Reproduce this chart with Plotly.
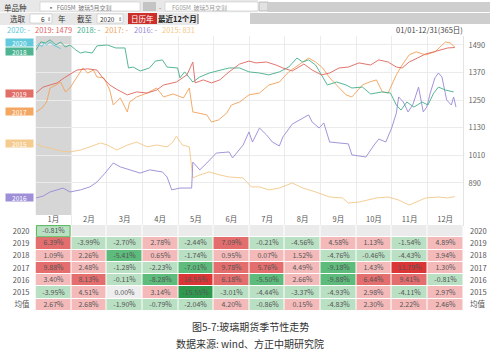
import plotly.graph_objects as go

W, H = 500, 353
FONT = "Noto Sans CJK SC"

def px(x):
    return x / W

def py(y):
    return 1 - y / H

# ---------------- data ----------------
years = ["2020", "2019", "2018", "2017", "2016", "2015"]
colors = {"2020": "#5bc8dc", "2019": "#e0675f", "2018": "#45b08c",
          "2017": "#f3a35b", "2016": "#9a8ad6", "2015": "#f5c98a"}

d2020 = [1, 3, 6, 8, 10, 13, 15, 17, 20, 22]
p2020 = [1486, 1494, 1483, 1499, 1490, 1503, 1492, 1486, 1479, 1474]

d2019 = [1, 7, 13, 19, 25, 30, 36, 45, 53, 58, 64, 71, 79, 87, 96, 104, 110, 121, 130, 135,
         137, 144, 151, 158, 166, 175, 183, 189, 198, 206, 212, 220, 230, 237, 245, 252, 260,
         268, 277, 287, 294, 302, 309, 314, 320, 327, 334, 341, 348, 353, 359]
p2019 = [1281, 1307, 1316, 1325, 1347, 1364, 1381, 1386, 1381, 1347, 1316, 1294, 1273, 1286,
         1281, 1294, 1316, 1329, 1360, 1416, 1325, 1338, 1325, 1338, 1373, 1407, 1420, 1412,
         1416, 1403, 1390, 1377, 1407, 1381, 1360, 1368, 1390, 1394, 1412, 1403, 1425, 1416,
         1394, 1390, 1416, 1433, 1451, 1460, 1468, 1477, 1479]

d2018 = [1, 5, 9, 13, 18, 22, 26, 30, 35, 39, 43, 49, 53, 62, 69, 77, 80, 84, 90, 98, 103,
         109, 113, 122, 124, 128, 135, 141, 149, 158, 166, 175, 183, 192, 200, 209, 217, 224,
         229, 234, 240, 245, 250, 258, 266, 271, 280, 287, 297, 304, 309, 313, 318, 324, 331,
         336, 341, 345, 351, 358]
p2018 = [1468, 1503, 1499, 1512, 1490, 1503, 1481, 1490, 1468, 1455, 1460, 1455, 1486, 1490,
         1477, 1477, 1390, 1394, 1377, 1390, 1420, 1425, 1394, 1390, 1347, 1373, 1329, 1351,
         1368, 1381, 1390, 1390, 1373, 1368, 1360, 1373, 1394, 1433, 1416, 1425, 1403, 1360,
         1316, 1329, 1316, 1303, 1307, 1277, 1286, 1281, 1229, 1207, 1242, 1220, 1242, 1229,
         1281, 1307, 1294, 1286]

d2017 = [1, 6, 10, 13, 18, 22, 26, 30, 36, 41, 45, 50, 53, 59, 64, 67, 73, 79, 81, 87, 96,
         104, 110, 118, 127, 132, 135, 141, 147, 151, 157, 164, 168, 175, 183, 192, 200, 209,
         217, 229, 234, 240, 246, 252, 258, 266, 271, 280, 286, 292, 297, 302, 309, 314, 320,
         326, 334, 342, 351, 355, 359]
p2017 = [1199, 1216, 1242, 1303, 1316, 1329, 1286, 1303, 1351, 1390, 1368, 1381, 1351, 1347,
         1294, 1229, 1260, 1199, 1242, 1264, 1281, 1303, 1264, 1277, 1260, 1303, 1199, 1194,
         1186, 1155, 1164, 1194, 1229, 1242, 1273, 1281, 1316, 1329, 1373, 1416, 1433, 1416,
         1390, 1347, 1316, 1273, 1264, 1316, 1329, 1338, 1286, 1281, 1360, 1403, 1447, 1460,
         1447, 1460, 1503, 1499, 1481]

d2016 = [1, 7, 13, 19, 24, 30, 39, 47, 53, 60, 67, 73, 81, 90, 98, 109, 113, 117, 124, 134,
         135, 141, 147, 155, 166, 169, 178, 183, 186, 192, 198, 203, 209, 212, 220, 229, 234,
         237, 243, 247, 252, 260, 268, 271, 283, 290, 294, 300, 305, 309, 311, 315, 319, 323,
         328, 332, 335, 338, 342, 345, 348, 352, 356, 358, 360]
p2016 = [825, 833, 851, 860, 868, 851, 860, 873, 894, 933, 977, 960, 947, 933, 947, 938, 916,
         860, 868, 868, 981, 947, 977, 1020, 1025, 999, 1055, 1112, 1068, 1129, 1099, 1068,
         1051, 1090, 1146, 1173, 1186, 1155, 1129, 1151, 1068, 1064, 1060, 1012, 1003, 1055,
         1081, 1068, 1129, 1194, 1264, 1242, 1199, 1229, 1307, 1199, 1220, 1281, 1347, 1368,
         1351, 1251, 1229, 1264, 1220]

d2015 = [1, 7, 13, 22, 30, 39, 47, 56, 62, 70, 79, 87, 96, 104, 113, 118, 121, 126, 132, 135,
         141, 149, 158, 166, 178, 185, 192, 200, 209, 220, 229, 240, 252, 263, 268, 277, 292,
         302, 311, 320, 326, 334, 345, 353, 359]
p2015 = [1060, 1047, 1042, 1029, 1025, 1033, 1047, 1064, 1055, 1033, 1055, 1068, 1047, 1055,
         1047, 1068, 1094, 1055, 1047, 912, 925, 938, 925, 916, 912, 873, 873, 860, 868, 890,
         868, 851, 829, 825, 803, 807, 825, 829, 816, 794, 807, 825, 829, 825, 831]

series = {"2020": (d2020, p2020), "2019": (d2019, p2019), "2018": (d2018, p2018),
          "2017": (d2017, p2017), "2016": (d2016, p2016), "2015": (d2015, p2015)}

legend_labels = ["2020: -", "2019: 1479", "2018: -", "2017: -", "2016: -", "2015: 831"]
y_ticks = [890, 1010, 1130, 1250, 1370, 1490]

months = ["1月", "2月", "3月", "4月", "5月", "6月", "7月", "8月", "9月", "10月", "11月", "12月"]
row_labels = ["2020", "2019", "2018", "2017", "2016", "2015", "均值"]
r2020 = [-0.81] + [None] * 11
r2019 = [6.39, -3.99, -2.70, 2.78, -2.44, 7.09, -0.21, -4.56, 4.58, 1.13, -1.54, 4.89]
r2018 = [1.09, 2.26, -5.41, 0.65, -1.74, 0.95, 0.07, 1.52, -4.76, -0.46, -4.43, 3.94]
r2017 = [9.88, 2.48, -1.28, -2.23, -7.01, 9.78, 5.76, 4.49, -9.18, 1.43, 11.79, 1.30]
r2016 = [3.40, 8.13, -0.11, -8.28, 16.55, 6.18, -5.50, 2.66, -9.88, 6.44, 9.41, -0.81]
r2015 = [-3.95, 4.51, 0.00, 3.14, -15.55, -3.01, -4.44, -3.37, -4.93, 2.98, -4.11, 2.97]
ravg = [2.67, 2.68, -1.90, -0.79, -2.04, 4.20, -0.86, 0.15, -4.83, 2.30, 2.22, 2.46]
table_rows = [r2020, r2019, r2018, r2017, r2016, r2015, ravg]

# ---------------- figure ----------------
fig = go.Figure()

for yr in ["2015", "2016", "2017", "2018", "2019", "2020"]:
    d, p = series[yr]
    fig.add_trace(go.Scatter(x=d, y=p, mode="lines", line=dict(color=colors[yr], width=1),
                             opacity=0.9, hoverinfo="skip", showlegend=False,
                             xaxis="x", yaxis="y"))

# table as heatmap (bottom row index 0 = 均值)
rows_bottom_up = list(reversed(table_rows))
labels_bottom_up = list(reversed(row_labels))


def level(v):
    if v is None:
        return None
    a = abs(v)
    if v == 0:
        return 0
    s = 1 if v > 0 else -1
    step = 1 if a < 5 else (2 if a < 10 else 3)
    return s * step


z = [[level(v) for v in r] for r in rows_bottom_up]
txt = [["" if v is None else f"{v:.2f}%" for v in r] for r in rows_bottom_up]
cols7 = ["#2e9a4e", "#5dbb7c", "#b9e0c3", "#eeeeee", "#f4baba", "#e46e6e", "#dc3535"]
cs = []
for i, c in enumerate(cols7):
    cs.append([i / 7, c])
    cs.append([(i + 1) / 7, c])

# placeholders for empty cells
zp = [[None] * 12 for _ in rows_bottom_up]
for i, r in enumerate(rows_bottom_up):
    for j, v in enumerate(r):
        if v is None:
            zp[i][j] = 0

fig.add_trace(go.Heatmap(z=z, x=list(range(12)), y=list(range(len(rows_bottom_up))),
                         text=txt, texttemplate="%{text}",
                         textfont=dict(size=7, color="#555555", family=FONT),
                         colorscale=cs, zmin=-3.5, zmax=3.5, showscale=False,
                         xgap=1, ygap=1, hoverinfo="skip", xaxis="x2", yaxis="y2"))
fig.add_trace(go.Heatmap(z=zp, x=list(range(12)), y=list(range(len(rows_bottom_up))),
                         colorscale=[[0, "#ebebeb"], [1, "#ebebeb"]], showscale=False,
                         xgap=1, ygap=1, hoverinfo="skip", xaxis="x2", yaxis="y3"))

x_dom = [px(35.5), px(463)]
month_w = 365.5 / 12

fig.update_layout(
    width=W, height=H, margin=dict(l=0, r=0, t=0, b=0), autosize=False,
    paper_bgcolor="white", plot_bgcolor="white",
    font=dict(family=FONT, size=7.5, color="#555555"),
    xaxis=dict(domain=x_dom, range=[0.5, 366], tickvals=[0.5 + k * month_w for k in range(1, 13)],
               showgrid=True, gridcolor="#ececec", gridwidth=1, showticklabels=False,
               zeroline=False, ticks="", anchor="y"),
    yaxis=dict(domain=[py(226), py(36)], range=[703, 1529], side="right", tickvals=y_ticks,
               showgrid=True, gridcolor="#ececec", zeroline=False, ticks="",
               tickfont=dict(size=7.5, color="#666666"), ticklabelstandoff=3,
               showline=True, linecolor="#e3e3e3", anchor="x"),
    xaxis2=dict(domain=x_dom, range=[-0.5, 11.5], side="top", tickvals=list(range(12)),
                ticktext=months, showgrid=False, zeroline=False, ticks="", anchor="y2",
                tickfont=dict(size=7.5, color="#555555"), ticklabelstandoff=1),
    yaxis2=dict(domain=[py(311), py(225)], range=[-0.5, 6.5], tickvals=list(range(7)),
                ticktext=labels_bottom_up, showgrid=False, zeroline=False, ticks="",
                anchor="x2", tickfont=dict(size=7.5, color="#555555"), ticklabelstandoff=5),
    yaxis3=dict(domain=[py(311), py(225)], range=[-0.5, 6.5], tickvals=list(range(7)),
                ticktext=labels_bottom_up, showgrid=False, zeroline=False, ticks="",
                overlaying="y2", side="right", anchor="x2",
                tickfont=dict(size=7.5, color="#555555"), ticklabelstandoff=6),
    hovermode=False,
)

shapes = []
ann = []

# January shaded band (inside the main plot, below the lines)
shapes.append(dict(type="rect", xref="x", yref="y domain", x0=0.5, x1=0.5 + month_w,
                   y0=(226 - 215) / 190, y1=1, fillcolor="#d6d6d6", line=dict(width=0),
                   layer="below"))
# highlight 2020 Jan cell
shapes.append(dict(type="rect", xref="x2", yref="y2", x0=-0.47, x1=0.47, y0=5.55, y1=6.45,
                   line=dict(color="#5cb85c", width=1), fillcolor="rgba(0,0,0,0)"))


def rect(x0, y0, x1, y1, fill, line=None):
    shapes.append(dict(type="rect", xref="paper", yref="paper", x0=px(x0), x1=px(x1),
                       y0=py(y1), y1=py(y0), fillcolor=fill,
                       line=dict(width=0) if line is None else dict(width=0.7, color=line),
                       layer="above"))


def text(x, y, s, size=7.5, color="#333333", anchor="center", bold=False):
    if bold:
        s = "<b>" + s + "</b>"
    ann.append(dict(xref="paper", yref="paper", x=px(x), y=py(y), text=s, showarrow=False,
                    xanchor=anchor, yanchor="middle", font=dict(size=size, color=color,
                                                                 family=FONT)))


# toolbar
rect(0, 0, 258, 12.3, "#e8e8e8")
rect(40, 2, 140, 11, "white", "#cfcfcf")
rect(143, 2, 156, 11, "#c4c4c4")
rect(165, 2, 258, 11, "white", "#cfcfcf")
rect(259, 2, 268, 11, "#e2e2e2", "#a9a9a9")
rect(268, 2, 490, 12, "#cecece")
rect(0, 13, 198, 25, "#e8e8e8")
rect(250, 13, 490, 24, "#cecece")
rect(30, 14, 52, 23, "white", "#c8c8c8")
rect(97, 14, 123, 23, "white", "#c8c8c8")
rect(128, 13, 157, 24, "#cc2f2b")
shapes.append(dict(type="line", xref="paper", yref="paper", x0=px(198), x1=px(198),
                   y0=py(24), y1=py(14), line=dict(color="#333333", width=0.8)))

text(15, 7, "单品种", 7.5, "#333333")
text(46, 7, "▪  FG05M  玻璃5月交割", 6, "#777777", "left")
text(160, 7, "-", 6, "#666666")
text(170, 7, "FG05M  玻璃5月交割", 6, "#999999", "left")
text(18, 19, "选取", 7.5, "#333333")
text(43, 19, "6", 6.5, "#333333")
text(49, 19, "⇕", 5, "#666666")
text(62, 19, "年", 7.5, "#333333")
text(85, 19, "截至", 7.5, "#333333")
text(107, 19, "2020", 6.5, "#333333")
text(120, 19, "⇕", 5, "#666666")
text(142.5, 18.8, "日历年", 7.5, "white")
text(177, 19, "最近12个月", 7.5, "#222222", bold=True)

# legend line
leg_x = [5, 33, 75, 103, 132, 160]
for yr, lab, lx in zip(years, legend_labels, leg_x):
    text(lx, 29.5, lab, 7.5, colors[yr], "left")
text(465, 30, "01/01-12/31(365日)", 7.5, "#444444", "right")

# start-value tags on left (small shifts keep the two top tags apart)
tag_shift = {"2020": 3, "2018": -1}
for yr in ["2020", "2018", "2019", "2017", "2015", "2016"]:
    d, p = series[yr]
    ann.append(dict(xref="paper", yref="y", x=px(19), y=p[0], text=yr, showarrow=False,
                    xanchor="center", yanchor="middle", bgcolor=colors[yr], opacity=0.95,
                    width=27, height=7, borderpad=0, yshift=tag_shift.get(yr, 0),
                    font=dict(size=6.5, color="white", family=FONT)))

# caption
text(250, 326.5, "图5-7:玻璃期货季节性走势", 10, "#333333")
text(250, 343, "数据来源: wind、方正中期研究院", 10, "#333333")

fig.update_layout(shapes=shapes, annotations=ann)
fig.write_html("out.html")
